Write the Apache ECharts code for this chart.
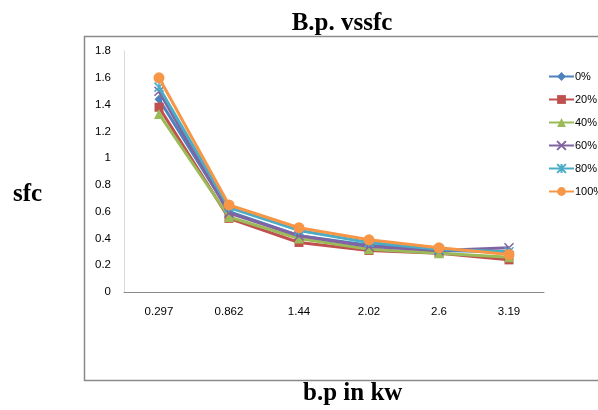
<!DOCTYPE html>
<html><head><meta charset="utf-8">
<script src="https://cdn.jsdelivr.net/npm/echarts@6/dist/echarts.min.js"></script>
<style>html,body{margin:0;padding:0;background:#fff}#c{width:598px;height:410px}</style>
</head><body><div id="c"></div>
<script>
const categories = ['0.297','0.862','1.44','2.02','2.6','3.19'];
const s0   = [1.44, 0.60, 0.42, 0.35, 0.31, 0.30];
const s20  = [1.38, 0.55, 0.37, 0.31, 0.29, 0.24];
const s40  = [1.33, 0.56, 0.40, 0.32, 0.29, 0.26];
const s60  = [1.50, 0.59, 0.42, 0.34, 0.31, 0.33];
const s80  = [1.53, 0.63, 0.46, 0.37, 0.32, 0.30];
const s100 = [1.60, 0.65, 0.48, 0.39, 0.33, 0.28];
const names = ['0%','20%','40%','60%','80%','100%'];
const yTicks = [0,0.2,0.4,0.6,0.8,1,1.2,1.4,1.6,1.8];

const colors = ['#4F81BD','#C0504D','#9BBB59','#8064A2','#4BACC6','#F79646'];
const symbols = ['diamond','rect','triangle',
  'path://M0,0L10,10M10,0L0,10',
  'path://M0,0L10,10M10,0L0,10M5,0L5,10',
  'circle'];
const symSizes = [9,9,10,9,9,11];
const data = [s0,s20,s40,s60,s80,s100];

const chart = echarts.init(document.getElementById('c'));
chart.setOption({
  animation:false,
  color:colors,
  title:{text:'B.p. vssfc',left:337,top:6,textAlign:'center',
    textStyle:{fontFamily:'Liberation Serif',fontWeight:'bold',fontSize:25,color:'#000'}},
  graphic:[
    {type:'rect',shape:{x:84.5,y:36.5,width:530,height:344},style:{fill:'none',stroke:'#8a8a8a',lineWidth:1.5},z:-1},
    {type:'text',left:13,top:182,style:{text:'sfc',font:'bold 25px "Liberation Serif"',fill:'#000'}},
    {type:'text',left:303,top:381,style:{text:'b.p in kw',font:'bold 25px "Liberation Serif"',fill:'#000'}}
  ],
  legend:{orient:'vertical',left:543,top:66,itemGap:12,itemWidth:25,itemHeight:11,
    textStyle:{fontFamily:'Liberation Sans',fontSize:11,color:'#000',padding:[0,0,0,-4]},
    data:names},
  grid:{left:124,right:54,top:51,bottom:118},
  xAxis:{type:'category',data:categories,boundaryGap:true,
    axisLine:{lineStyle:{color:'#8a8a8a',width:1}},axisTick:{show:false},
    axisLabel:{fontFamily:'Liberation Sans',fontSize:11.5,color:'#000',margin:14}},
  yAxis:{type:'value',min:0,max:1.8,interval:0.2,
    axisLine:{show:true,lineStyle:{color:'#d9d9d9',width:1}},axisTick:{show:false},
    splitLine:{show:false},
    axisLabel:{fontFamily:'Liberation Sans',fontSize:11.5,color:'#000',margin:13,
      formatter:v=>{const t=yTicks.find(x=>Math.abs(x-v)<1e-6);return t===undefined?'':String(t);}}},
  series:data.map((d,i)=>({
    name:names[i],type:'line',data:d,symbol:symbols[i],symbolSize:symSizes[i],
    lineStyle:{width:3,color:colors[i]},
    itemStyle:{color:colors[i],borderColor:colors[i],borderWidth:(i===3||i===4)?1.5:0},
    z:2+i
  }))
});
</script></body></html>
